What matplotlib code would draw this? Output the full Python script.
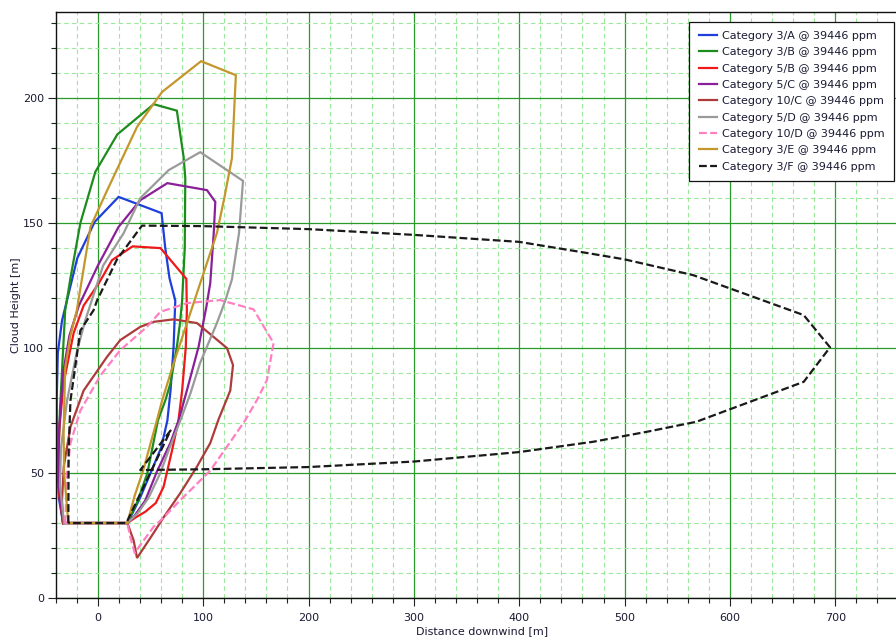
import matplotlib
matplotlib.use("Agg")
import matplotlib.pyplot as plt
from matplotlib.ticker import MultipleLocator

plt.rcParams['font.family'] = ['DejaVu Sans']

# Contour outlines (distance downwind [m], cloud height [m])
x_3a = [-33, -37, -39, -39, -38, -34, -19.5, -3, 19.7, 60.5, 64, 68, 73.5, 71.9, 69, 66, 60, 50, 40, 33, 28, -33]
y_3a = [30, 40, 60, 80, 98, 111, 136, 150.5, 160.5, 154, 140, 128, 119, 100.5, 83, 71, 60, 50, 40, 34, 30, 30]

x_3b = [-33, -37, -37.5, -36, -33.5, -31, -26, -16.6, -2.4, 18.5, 53, 75, 81.4, 83, 82.5, 80, 78, 75, 69, 64, 57, 47, 38, 28, -33]
y_3b = [30, 45, 55, 75, 95, 115, 128, 150, 170.5, 185.5, 197.6, 195, 176.5, 168, 140, 119, 110, 100.5, 86, 79, 71, 50, 39, 30, 30]

x_5b = [-33, -37, -37.5, -36.5, -32.5, -23, -13.5, 1, 13.5, 33, 59.5, 84, 84.5, 83.5, 80, 76.5, 70.4, 62.4, 55, 45, 35, 28, -33]
y_5b = [30, 42, 55, 68, 86, 106, 117, 126, 135.2, 140.7, 140, 127.7, 115, 100.5, 83, 71, 59, 44.5, 38, 34.5, 32, 30, 30]

x_5c = [-33, -37, -37, -33, -27, -18, 0, 19.7, 40.3, 66, 103.6, 111.5, 110, 106.7, 103, 95.6, 84.6, 77, 68.8, 56, 45, 35, 28, -33]
y_5c = [30, 45, 66, 90, 105, 117, 133, 148.5, 159.2, 166, 163.2, 158.5, 146, 126, 116.5, 100.5, 83.2, 71.5, 62, 50.5, 39, 33, 30, 30]

x_10c = [-33, -34, -32.4, -26, -13.5, 8.7, 21.3, 40.3, 52.9, 71.9, 94.1, 122.6, 128.3, 125.7, 114.6, 106.7, 94, 78.3, 62, 52.9, 37.2, 34, 28, -33]
y_10c = [30, 39, 52.5, 68.5, 83, 96.5, 103.2, 108.5, 110.5, 111.5, 110, 100, 93.2, 83, 71.5, 62, 52.5, 42, 32, 26, 16, 23, 30, 30]

x_5d = [-32, -36, -35, -29.2, -19.7, -12, 5, 24.5, 40.3, 67.2, 97.2, 137.8, 134, 127.3, 121, 113, 105, 97, 88, 78.3, 68, 59.3, 48, 38, 28, -32]
y_5d = [30, 45, 60, 79, 99, 111, 133, 146, 160, 171.2, 178.4, 166.9, 146, 127.5, 119, 110, 102, 94, 82, 71, 60, 50, 40, 34, 30, 30]

x_10d = [-31, -30, -29.2, -26, -16.6, 2.4, 21.3, 46.7, 59.3, 84.6, 116.2, 147.8, 166.8, 160.5, 151, 140, 125, 106.7, 90, 78.3, 62, 52.9, 40, 35, 31, 28, -31]
y_10d = [30, 40, 50, 62, 75, 89, 99.2, 108.5, 114.5, 118, 119.2, 115.5, 102, 87.2, 79.2, 71.2, 62, 51, 44, 39.2, 32, 28.5, 21, 18, 24, 30, 30]

x_3e = [-28, -32, -32.5, -31, -26, -20, -7, 8.7, 37.2, 61, 98, 131, 127.3, 120, 113, 98, 84.6, 72, 61, 56, 43, 35, 28, -28]
y_3e = [30, 50, 66, 92, 105, 115, 148.5, 163, 188.5, 202.5, 214.8, 209.2, 176, 160, 146, 127, 110, 94, 79, 71, 51, 41, 30, 30]

x_3f = [-28, -27.7, -26, -16.6, -4, -0.8, 18.2, 41.9, 100, 200, 300, 400, 465, 500, 565, 670, 695,
        670, 568, 521, 470, 400, 300, 200, 100, 40.3, 69, 27, -28]
y_3f = [30, 59, 79, 107, 115.2, 119, 135.5, 149, 148.8, 147.6, 145.3, 142.5, 138, 135.5, 129.2, 113.2, 100.3,
        86.5, 70.5, 66.5, 62.5, 58.4, 54.6, 52.4, 51.5, 51.2, 67, 30, 30]

labels = ["Category 3/A @ 39446 ppm", "Category 3/B @ 39446 ppm", "Category 5/B @ 39446 ppm",
          "Category 5/C @ 39446 ppm", "Category 10/C @ 39446 ppm", "Category 5/D @ 39446 ppm",
          "Category 10/D @ 39446 ppm", "Category 3/E @ 39446 ppm", "Category 3/F @ 39446 ppm"]
xs = [x_3a, x_3b, x_5b, x_5c, x_10c, x_5d, x_10d, x_3e, x_3f]
ys = [y_3a, y_3b, y_5b, y_5c, y_10c, y_5d, y_10d, y_3e, y_3f]

colors = ["#1f3fdc", "#1d8c1d", "#f01818", "#8a1f99", "#ae3b3b", "#9a9a9a", "#ff80c0", "#c4962c", "#1a1a1a"]
dashed = [False, False, False, False, False, False, True, False, True]

fig = plt.figure(figsize=(8.96, 6.41), dpi=100)
ax = fig.add_axes([55.7 / 896, 43 / 641, (908 - 55.7) / 896, (598 - 11.7) / 641])

for xv, yv, lab, col, dsh in zip(xs, ys, labels, colors, dashed):
    ls = (0, (3.5, 1.5)) if dsh else "-"
    ax.plot(xv, yv, color=col, lw=1.6, ls=ls, label=lab, solid_joinstyle="miter")

ax.set_xlim(-40, 769)
ax.set_ylim(0, 234.6)
ax.xaxis.set_major_locator(MultipleLocator(100))
ax.xaxis.set_minor_locator(MultipleLocator(20))
ax.yaxis.set_major_locator(MultipleLocator(50))
ax.yaxis.set_minor_locator(MultipleLocator(10))

ax.set_axisbelow(True)
ax.grid(which="minor", color="#9ae89a", lw=0.8, ls=(0, (4, 3)))
ax.grid(which="major", color="#2a9a2a", lw=0.9, ls="-")

ax.tick_params(which="major", length=5.5, width=0.8, color="#222222", labelsize=8, pad=3, labelcolor="#1a1a33")
ax.tick_params(axis="x", which="major", pad=5.2)
ax.tick_params(which="minor", length=3.5, width=0.8, color="#222222")
for side in ("left", "bottom", "top"):
    ax.spines[side].set_color("#111111")
    ax.spines[side].set_linewidth(1.0)

ax.set_xlabel("Distance downwind [m]", fontsize=8, labelpad=2.5, color="#1a1a33")
ax.set_ylabel("Cloud Height [m]", fontsize=8, labelpad=1.5, color="#1a1a33")

leg = ax.legend(loc="upper right", bbox_to_anchor=(894 / 896, 1 - 21.5 / 641),
                bbox_transform=fig.transFigure, fontsize=8, frameon=True, fancybox=False,
                edgecolor="#111111", framealpha=1, handlelength=1.65, handletextpad=0.45,
                labelspacing=0.57, borderpad=0.85, borderaxespad=0)
leg.get_frame().set_linewidth(0.9)
for t in leg.get_texts():
    t.set_color("#1a1a33")

fig.savefig("out.png", dpi=100)
